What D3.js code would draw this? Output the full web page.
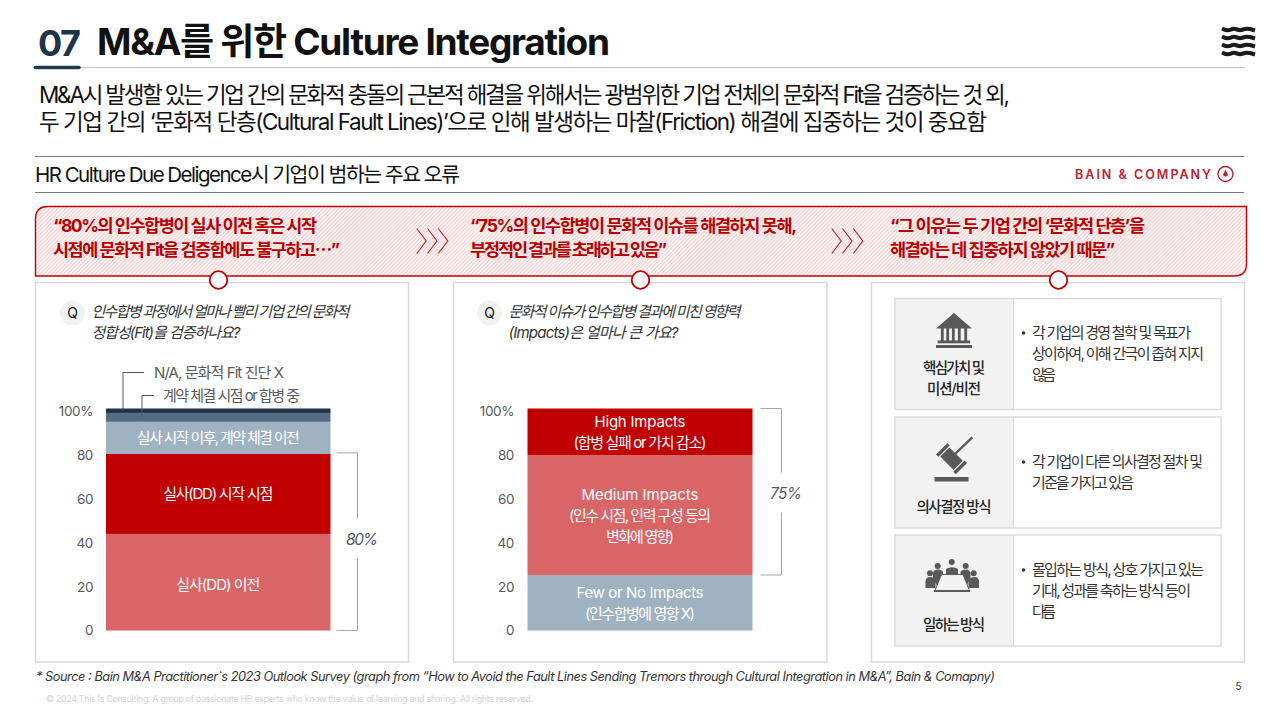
<!DOCTYPE html>
<html>
<head>
<meta charset="utf-8">
<script src="https://cdn.jsdelivr.net/npm/d3@7"></script>
<style>
  html, body { margin: 0; padding: 0; background: #fff; }
  svg { display: block; }
  text { font-family: Inter, "Noto Sans CJK KR", sans-serif; }
</style>
</head>
<body>
<svg id="chart" width="1280" height="720"></svg>
<script>
// chart data
const tickValues = [0, 20, 40, 60, 80, 100];
const tickLabels = ["0", "20", "40", "60", "80", "100%"];

const timingCategories = [
  ["실사(DD) 이전"],
  ["실사(DD) 시작 시점"],
  ["실사 시작 이후, 계약 체결 이전"],
  [],
  []
];
const timingValues = [43.5, 36, 14.5, 4, 2];
const timingColors = ["#d96567", "#c00000", "#9fb2c1", "#536d85", "#1f3349"];

const impactCategories = [
  ["Few or No Impacts", "(인수합병에 영향 X)"],
  ["Medium Impacts", "(인수 시점, 인력 구성 등의", "변화에 영향)"],
  ["High Impacts", "(합병 실패 or 가치 감소)"]
];
const impactValues = [25, 54, 21];
const impactColors = ["#9fb2c1", "#d96567", "#c00000"];

const red = "#c00000";
const grey = "#595959";
const svg = d3.select("#chart");

// text helper, y is the vertical centre of the line
function label(parent, str, x, y, o) {
  o = o || {};
  const t = parent.append("text")
    .attr("x", x)
    .attr("y", y)
    .attr("dy", "0.36em")
    .attr("font-size", o.size || 14)
    .attr("font-weight", o.weight || 400)
    .attr("fill", o.fill || "#333")
    .attr("text-anchor", o.anchor || "start")
    .text(str);
  if (o.italic) t.attr("font-style", "italic");
  if (o.width) t.attr("textLength", o.width).attr("lengthAdjust", "spacing");
  return t;
}

// hatch for the banner
const hatch = svg.append("defs").append("pattern")
  .attr("id", "hatch")
  .attr("width", 2.8)
  .attr("height", 2.8)
  .attr("patternUnits", "userSpaceOnUse")
  .attr("patternTransform", "rotate(45)");
hatch.append("rect").attr("width", 2.8).attr("height", 2.8).attr("fill", "#fff");
hatch.append("rect").attr("width", 1.5).attr("height", 2.8).attr("fill", "#f7d2d2");

// header
label(svg, "07", 38, 43, { size: 36, weight: 700, fill: "#1f3349", width: 43 });
label(svg, "M&A를 위한 Culture Integration", 97, 42, { size: 37, weight: 700, fill: "#111", width: 513 });
svg.append("line").attr("x1", 34).attr("x2", 1245).attr("y1", 67.5).attr("y2", 67.5)
  .attr("stroke", "#bfc2c6").attr("stroke-width", 1);
svg.append("line").attr("x1", 35.5).attr("x2", 79).attr("y1", 67.5).attr("y2", 67.5)
  .attr("stroke", "#1f3a55").attr("stroke-width", 3.5).attr("stroke-linecap", "round");

// wave logo
const wave = d3.line().curve(d3.curveBasis);
[29.5, 37.5, 45.5, 53.5].forEach(function(y) {
  svg.append("path")
    .attr("d", wave([[1222, y - 1], [1228, y + 2], [1234, y - 2], [1240, y + 2], [1246, y - 2], [1255, y + 1]]))
    .attr("fill", "none").attr("stroke", "#1a1a1a").attr("stroke-width", 4);
});

label(svg, "M&A시 발생할 있는 기업 간의 문화적 충돌의 근본적 해결을 위해서는 광범위한 기업 전체의 문화적 Fit을 검증하는 것 외,", 39, 95, { size: 22.5, fill: "#111", width: 971 });
label(svg, "두 기업 간의 ‘문화적 단층(Cultural Fault Lines)’으로 인해 발생하는 마찰(Friction) 해결에 집중하는 것이 중요함", 39, 122, { size: 22.5, fill: "#111", width: 948 });

// section title
[156.5, 192.5].forEach(function(y) {
  svg.append("line").attr("x1", 35).attr("x2", 1244).attr("y1", y).attr("y2", y)
    .attr("stroke", "#6f7884").attr("stroke-width", 1);
});
label(svg, "HR Culture Due Deligence시 기업이 범하는 주요 오류", 35, 175, { size: 20.5, fill: "#111", width: 425 });
label(svg, "BAIN & COMPANY", 1075, 174, { size: 12.5, weight: 600, fill: "#b92332", width: 136 });
svg.append("circle").attr("cx", 1225.5).attr("cy", 174).attr("r", 7.5)
  .attr("fill", "none").attr("stroke", "#b92332").attr("stroke-width", 1.4);
svg.append("path").attr("d", "M1225.5 169.5 L1228 175 A2.8 2.8 0 0 1 1223 175 Z").attr("fill", "#b92332");

// cards
[[35.5, 373], [453.5, 373.5], [871.5, 373]].forEach(function(c) {
  svg.append("rect").attr("x", c[0]).attr("y", 282.5).attr("width", c[1]).attr("height", 379.5)
    .attr("fill", "#fff").attr("stroke", "#d9d9d9").attr("stroke-width", 1.5);
});

// banner
svg.append("path")
  .attr("d", "M35.5 276 L35.5 219 Q35.5 206.5 48 206.5 L1246.5 206.5 L1246.5 264 Q1246.5 276 1234 276 Z")
  .attr("fill", "url(#hatch)")
  .attr("stroke", red).attr("stroke-width", 1.4);

const bannerStyle = { size: 17.5, weight: 700, fill: "#b80000" };
const bannerLines = [
  ["“80%의 인수합병이 실사 이전 혹은 시작", 53, 226, 264],
  ["시점에 문화적 Fit을 검증함에도 불구하고⋯”", 53, 250, 287],
  ["“75%의 인수합병이 문화적 이슈를 해결하지 못해,", 470, 226, 327],
  ["부정적인 결과를 초래하고 있음”", 470, 250, 197],
  ["“그 이유는 두 기업 간의 ‘문화적 단층’을", 890, 226, 255],
  ["해결하는 데 집중하지 않았기 때문”", 890, 250, 225]
];
bannerLines.forEach(function(d) {
  label(svg, d[0], d[1], d[2], Object.assign({ width: d[3] }, bannerStyle));
});

// chevrons between the quotes
[416.7, 831.7].forEach(function(x0) {
  [0, 10.8, 21.6].forEach(function(dx) {
    svg.append("path")
      .attr("d", "M" + (x0 + dx) + " 228.5 L" + (x0 + dx + 9.5) + " 241 L" + (x0 + dx) + " 253.5")
      .attr("fill", "none").attr("stroke", "#b5202a").attr("stroke-width", 1.1);
  });
});

[218.5, 640.5, 1058.5].forEach(function(x) {
  svg.append("circle").attr("cx", x).attr("cy", 280).attr("r", 8.8)
    .attr("fill", "#fff").attr("stroke", red).attr("stroke-width", 1.8);
});

// questions
function question(x, lines) {
  svg.append("circle").attr("cx", x).attr("cy", 313).attr("r", 12.5).attr("fill", "#f2f2f2");
  label(svg, "Q", x, 313, { size: 14, fill: "#111", anchor: "middle" });
  lines.forEach(function(l, i) {
    label(svg, l[0], x + 19, 312 + i * 21, { size: 15, italic: true, fill: "#333", width: l[1] });
  });
}
question(72.5, [["인수합병 과정에서 얼마나 빨리 기업 간의 문화적", 258], ["정합성(Fit)을 검증하나요?", 149]]);
question(489.5, [["문화적 이슈가 인수합병 결과에 미친 영향력", 232], ["(Impacts)은 얼마나 큰 가요?", 170]]);

// stacked bars
const yBar = d3.scaleLinear().domain([0, 100]).range([630.5, 408.5]);
const yTick = d3.scaleLinear().domain([0, 100]).range([630, 411]);

function stackedBar(o) {
  const x = d3.scaleBand().domain(["all"]).range([o.left, o.right]);
  const row = {};
  o.values.forEach(function(v, i) { row[i] = v; });
  const series = d3.stack().keys(d3.range(o.values.length))([row]);
  const g = svg.append("g");

  g.selectAll("rect")
    .data(series)
    .join("rect")
    .attr("x", x("all"))
    .attr("width", x.bandwidth())
    .attr("y", function(d) { return yBar(d[0][1]); })
    .attr("height", function(d) { return yBar(d[0][0]) - yBar(d[0][1]); })
    .attr("fill", function(d, i) { return o.colors[i]; });

  series.forEach(function(s, i) {
    const mid = yBar((s[0][0] + s[0][1]) / 2) + o.nudge[i];
    const lines = o.categories[i];
    lines.forEach(function(line, j) {
      label(g, line, (o.left + o.right) / 2, mid + (j - (lines.length - 1) / 2) * 21, {
        size: 15, fill: "#fff", anchor: "middle", width: o.widths[i][j]
      });
    });
  });

  const axis = d3.axisLeft(yTick)
    .tickValues(tickValues)
    .tickSize(0)
    .tickPadding(0)
    .tickFormat(function(d, i) { return tickLabels[i]; });
  const ag = svg.append("g").attr("transform", "translate(" + o.axisX + ",0)").call(axis);
  ag.select(".domain").remove();
  ag.selectAll("text")
    .attr("font-size", 13.5)
    .attr("font-family", "Inter, 'Noto Sans CJK KR', sans-serif")
    .attr("letter-spacing", "-0.4")
    .attr("fill", grey)
    .attr("dy", "0.36em");

  // bracket with the share
  const top = yBar(o.bracket[1]);
  const bottom = yBar(o.bracket[0]);
  const bx = o.right + o.bracketGap + 21;
  const mid = o.bracketMid;
  const line = d3.line();
  g.append("path")
    .attr("d", line([[bx - 21, top], [bx, top], [bx, mid - 20]]) + line([[bx, mid + 20], [bx, bottom], [bx - 21, bottom]]))
    .attr("fill", "none").attr("stroke", "#a6a6a6").attr("stroke-width", 1);
  label(g, o.share, bx + 4.5, mid + 1, { size: 15.5, italic: true, fill: grey, anchor: "middle", width: 32 });
}

stackedBar({
  left: 106, right: 330.5, axisX: 93,
  values: timingValues, colors: timingColors, categories: timingCategories,
  widths: [[84], [110], [163], [], []], nudge: [2, 0, 0, 0, 0],
  bracket: [0, 80], bracketGap: 6, bracketMid: 538.5, share: "80%"
});
stackedBar({
  left: 527.5, right: 752.5, axisX: 514,
  values: impactValues, colors: impactColors, categories: impactCategories,
  widths: [[127, 110], [117, 142, 68], [91, 133]], nudge: [0.5, 0.5, 0],
  bracket: [25, 100], bracketGap: 8, bracketMid: 492.5, share: "75%"
});

// leaders for the two thin segments
const leader = d3.line();
svg.append("path").attr("d", leader([[123, 410], [123, 372.5], [144, 372.5]]))
  .attr("fill", "none").attr("stroke", grey).attr("stroke-width", 1);
svg.append("path").attr("d", leader([[142, 417], [142, 395.5], [154, 395.5]]))
  .attr("fill", "none").attr("stroke", grey).attr("stroke-width", 1);
label(svg, "N/A, 문화적 Fit 진단 X", 154, 373, { size: 15, fill: grey, width: 130 });
label(svg, "계약 체결 시점 or 합병 중", 163, 396, { size: 15, fill: grey, width: 137 });

// right card rows
const rowTitles = [["핵심가치 및", "미션/비전"], ["의사결정 방식"], ["일하는 방식"]];
const rowTexts = [
  ["각 기업의 경영 철학 및 목표가", "상이하여, 이해 간극이 좁혀 지지", "않음"],
  ["각 기업이 다른 의사결정 절차 및", "기준을 가지고 있음"],
  ["몰입하는 방식, 상호 가지고 있는", "기대, 성과를 축하는 방식 등이", "다름"]
];
const rowTop = [298.5, 417, 535];
const titleTop = [368, 507, 625];
const textTop = [333, 462, 570];
const textWidths = [[159, 172, 24], [171, 102], [172, 159, 24]];
const titleWidths = [[62, 54], [75], [62]];

rowTitles.forEach(function(title, i) {
  svg.append("rect").attr("x", 895).attr("y", rowTop[i]).attr("width", 118.5).attr("height", 111)
    .attr("fill", "#f2f2f2");
  svg.append("rect").attr("x", 895).attr("y", rowTop[i]).attr("width", 326).attr("height", 111)
    .attr("fill", "none").attr("stroke", "#dcdcdc").attr("stroke-width", 1.5);
  svg.append("line").attr("x1", 1013.5).attr("x2", 1013.5).attr("y1", rowTop[i]).attr("y2", rowTop[i] + 111)
    .attr("stroke", "#dcdcdc").attr("stroke-width", 1);
  title.forEach(function(t, j) {
    label(svg, t, 954, titleTop[i] + j * 21, { size: 14.5, weight: 500, fill: "#222", anchor: "middle", width: titleWidths[i][j] });
  });
  svg.append("circle").attr("cx", 1023.5).attr("cy", textTop[i]).attr("r", 1.8).attr("fill", "#333");
  rowTexts[i].forEach(function(t, j) {
    label(svg, t, 1032, textTop[i] + j * 21, { size: 15, fill: "#333", width: textWidths[i][j] });
  });
});

// icons
const iconFill = "#595959";
const bank = svg.append("g").attr("fill", iconFill);
bank.append("path").attr("d", "M954 313 L972 328.5 L936 328.5 Z");
[942.3, 947.7, 953.3, 959.3, 965.7].forEach(function(x) {
  bank.append("rect").attr("x", x - 1.4).attr("y", 328).attr("width", 2.8).attr("height", 13);
});
bank.append("rect").attr("x", 937.7).attr("y", 340.5).attr("width", 32.5).attr("height", 2.8);
bank.append("rect").attr("x", 936).attr("y", 345).attr("width", 36).attr("height", 3);

const gavel = svg.append("g").attr("fill", iconFill);
gavel.append("rect").attr("x", 934.5).attr("y", 477).attr("width", 34).attr("height", 4.5);
const head = gavel.append("g").attr("transform", "translate(951.5,458.7) rotate(45)");
head.append("rect").attr("x", -9.5).attr("y", -6.5).attr("width", 19).attr("height", 13);
head.append("rect").attr("x", -14).attr("y", -8).attr("width", 3.4).attr("height", 16);
head.append("rect").attr("x", 10.6).attr("y", -8).attr("width", 3.4).attr("height", 16);
gavel.append("path").attr("d", "M955 454 L972.3 437.3").attr("stroke", iconFill).attr("stroke-width", 2.4);

const meeting = svg.append("g").attr("fill", iconFill);
[[951.7, 562], [937.7, 566], [965.7, 566], [930, 573.3], [973.7, 573.3]].forEach(function(p) {
  meeting.append("circle").attr("cx", p[0]).attr("cy", p[1]).attr("r", 3);
});
meeting.append("path").attr("d", "M946 574 L946 569 Q952 565.5 958 569 L958 574 Z");
meeting.append("path").attr("d", "M933 578 L933 572.5 Q934 569.5 938 569.5 Q942 569.5 943 572 L943 576 L937 586 Z");
meeting.append("path").attr("d", "M970.5 578 L970.5 572.5 Q969.5 569.5 965.5 569.5 Q961.5 569.5 960.5 572 L960.5 576 L966.5 586 Z");
meeting.append("path").attr("d", "M925.5 588 L925.5 581 Q926 577 930 577 Q934 577 935.5 580 L935.5 588 Z");
meeting.append("path").attr("d", "M979 588 L979 581 Q978.5 577 974.5 577 Q970.5 577 968.5 580 L968.5 588 Z");
meeting.append("path")
  .attr("d", "M941.5 574.5 L963 574.5 L969.5 590.5 L935 590.5 Z")
  .attr("fill", "#f2f2f2").attr("stroke", iconFill).attr("stroke-width", 1);
meeting.append("rect").attr("x", 934).attr("y", 590).attr("width", 36).attr("height", 2);

// footer
label(svg, "* Source : Bain M&A Practitioner`s 2023 Outlook Survey (graph from “How to Avoid the Fault Lines Sending Tremors through Cultural Integration in M&A”, Bain & Comapny)", 36, 676, { size: 12.8, italic: true, fill: "#333", width: 959 });
label(svg, "© 2024 This Is Consulting. A group of passionate HR experts who know the value of learning and sharing. All rights reserved.", 46, 699, { size: 8.8, fill: "#d4d4d4", width: 487 });
label(svg, "5", 1238.5, 686, { size: 10, fill: "#333", anchor: "middle" });
</script>
</body>
</html>
